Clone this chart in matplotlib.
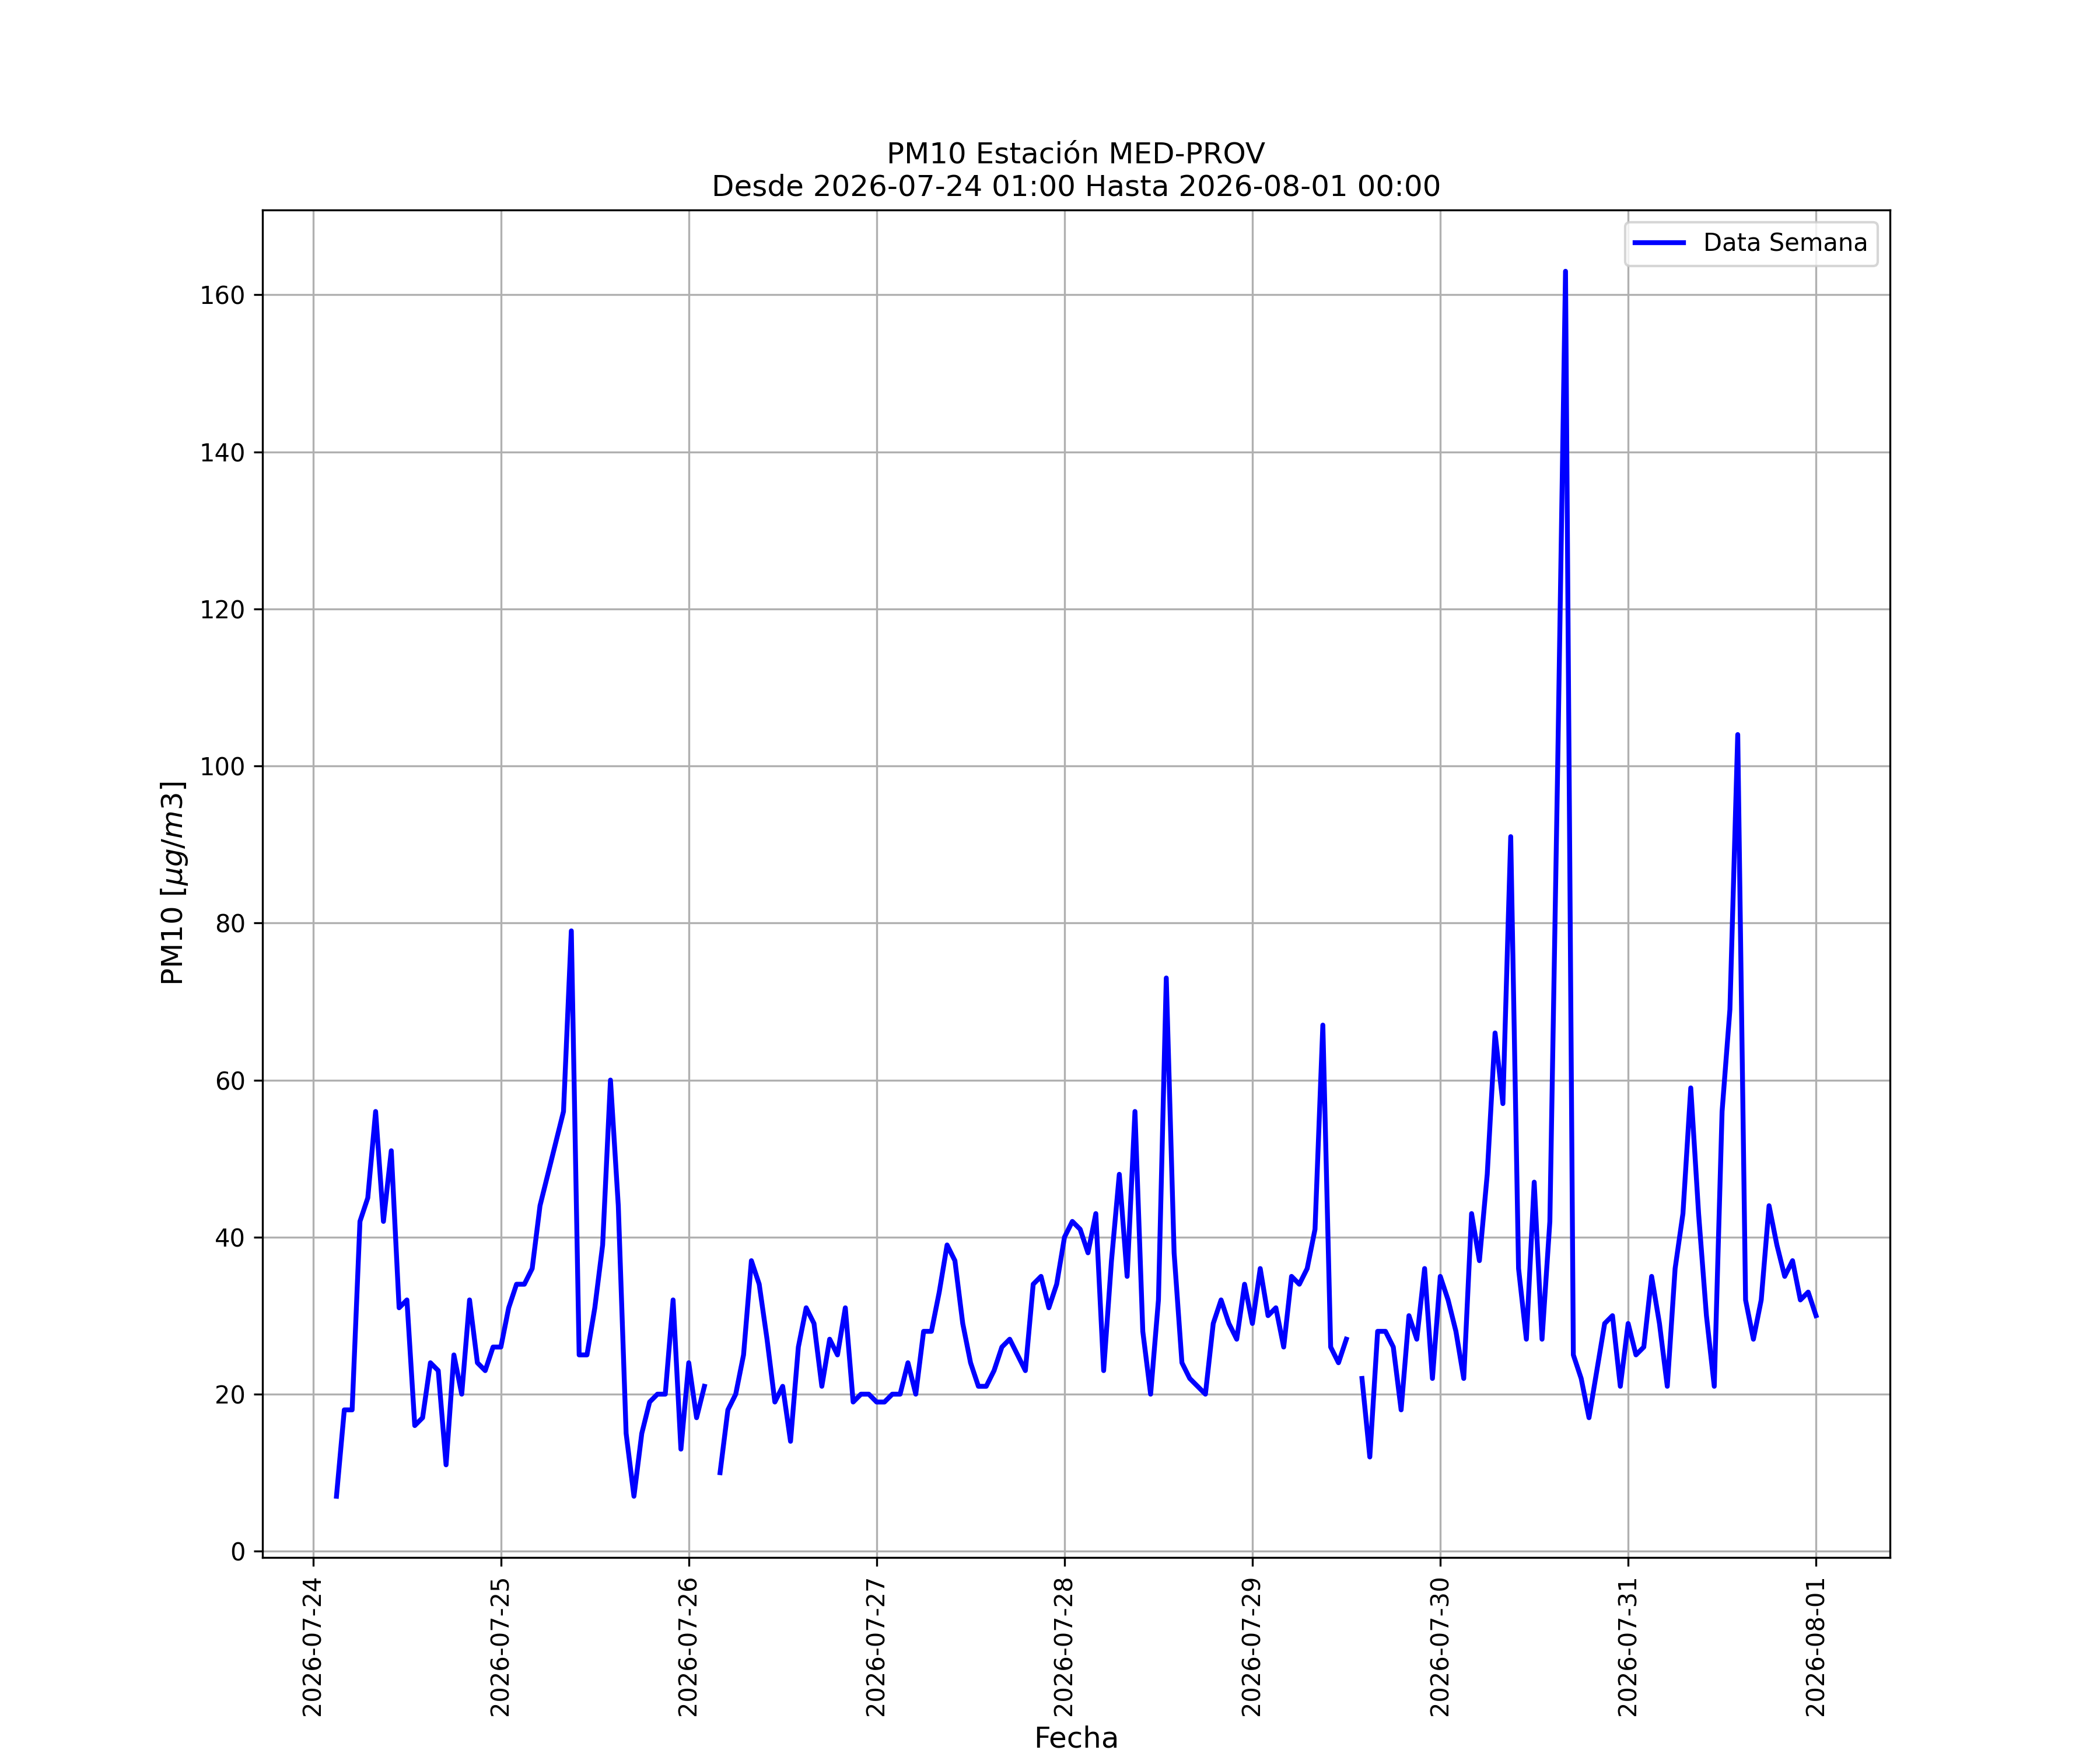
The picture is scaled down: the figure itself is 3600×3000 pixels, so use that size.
import numpy as np
import pandas as pd
import matplotlib
matplotlib.use('Agg')
import matplotlib.pyplot as plt
import matplotlib.dates as mdates

nan = np.nan

# valores horarios PM10 (ug/m3), desde 2026-07-24 01:00
dia_0724 = [nan, nan, 7, 18, 18, 42, 45, 56, 42, 51, 31, 32, 16, 17, 24, 23,
            11, 25, 20, 32, 24, 23, 26]  # horas 01..23
dia_0725 = [26, 31, 34, 34, 36, 44, 48, 52, 56, 79, 25, 25, 31, 39, 60, 44,
            15, 7, 15, 19, 20, 20, 32, 13]
dia_0726 = [24, 17, 21, nan, 10, 18, 20, 25, 37, 34, 27, 19, 21, 14, 26, 31,
            29, 21, 27, 25, 31, 19, 20, 20]
dia_0727 = [19, 19, 20, 20, 24, 20, 28, 28, 33, 39, 37, 29, 24, 21, 21, 23,
            26, 27, 25, 23, 34, 35, 31, 34]
dia_0728 = [40, 42, 41, 38, 43, 23, 37, 48, 35, 56, 28, 20, 32, 73, 38, 24,
            22, 21, 20, 29, 32, 29, 27, 34]
dia_0729 = [29, 36, 30, 31, 26, 35, 34, 36, 41, 67, 26, 24, 27, nan, 22, 12,
            28, 28, 26, 18, 30, 27, 36, 22]
dia_0730 = [35, 32, 28, 22, 43, 37, 48, 66, 57, 91, 36, 27, 47, 27, 42, 100,
            163, 25, 22, 17, 23, 29, 30, 21]
dia_0731 = [29, 25, 26, 35, 29, 21, 36, 43, 59, 43, 30, 21, 56, 69, 104, 32,
            27, 32, 44, 39, 35, 37, 32, 33]
dia_0801 = [30]  # hora 00

valores = (dia_0724 + dia_0725 + dia_0726 + dia_0727 + dia_0728 +
           dia_0729 + dia_0730 + dia_0731 + dia_0801)
fechas = pd.date_range('2026-07-24 01:00', '2026-08-01 00:00', freq='h')

fig = plt.figure(figsize=(12, 10), dpi=300)
ax = fig.add_subplot(111)
ax.plot(fechas, valores, color='b', linewidth=2, label='Data Semana')

ax.xaxis.set_major_locator(mdates.DayLocator())
ax.xaxis.set_major_formatter(mdates.DateFormatter('%Y-%m-%d'))
plt.xticks(rotation=90)

ax.set_title('PM10 Estación MED-PROV\nDesde 2026-07-24 01:00 Hasta 2026-08-01 00:00', fontsize=12)
ax.set_xlabel('Fecha', fontsize=12)
ax.set_ylabel(r'PM10 [$\mu g/m3$]', fontsize=12)
ax.grid(True)
ax.legend(loc='upper right')

fig.savefig('out.png', dpi=300)
